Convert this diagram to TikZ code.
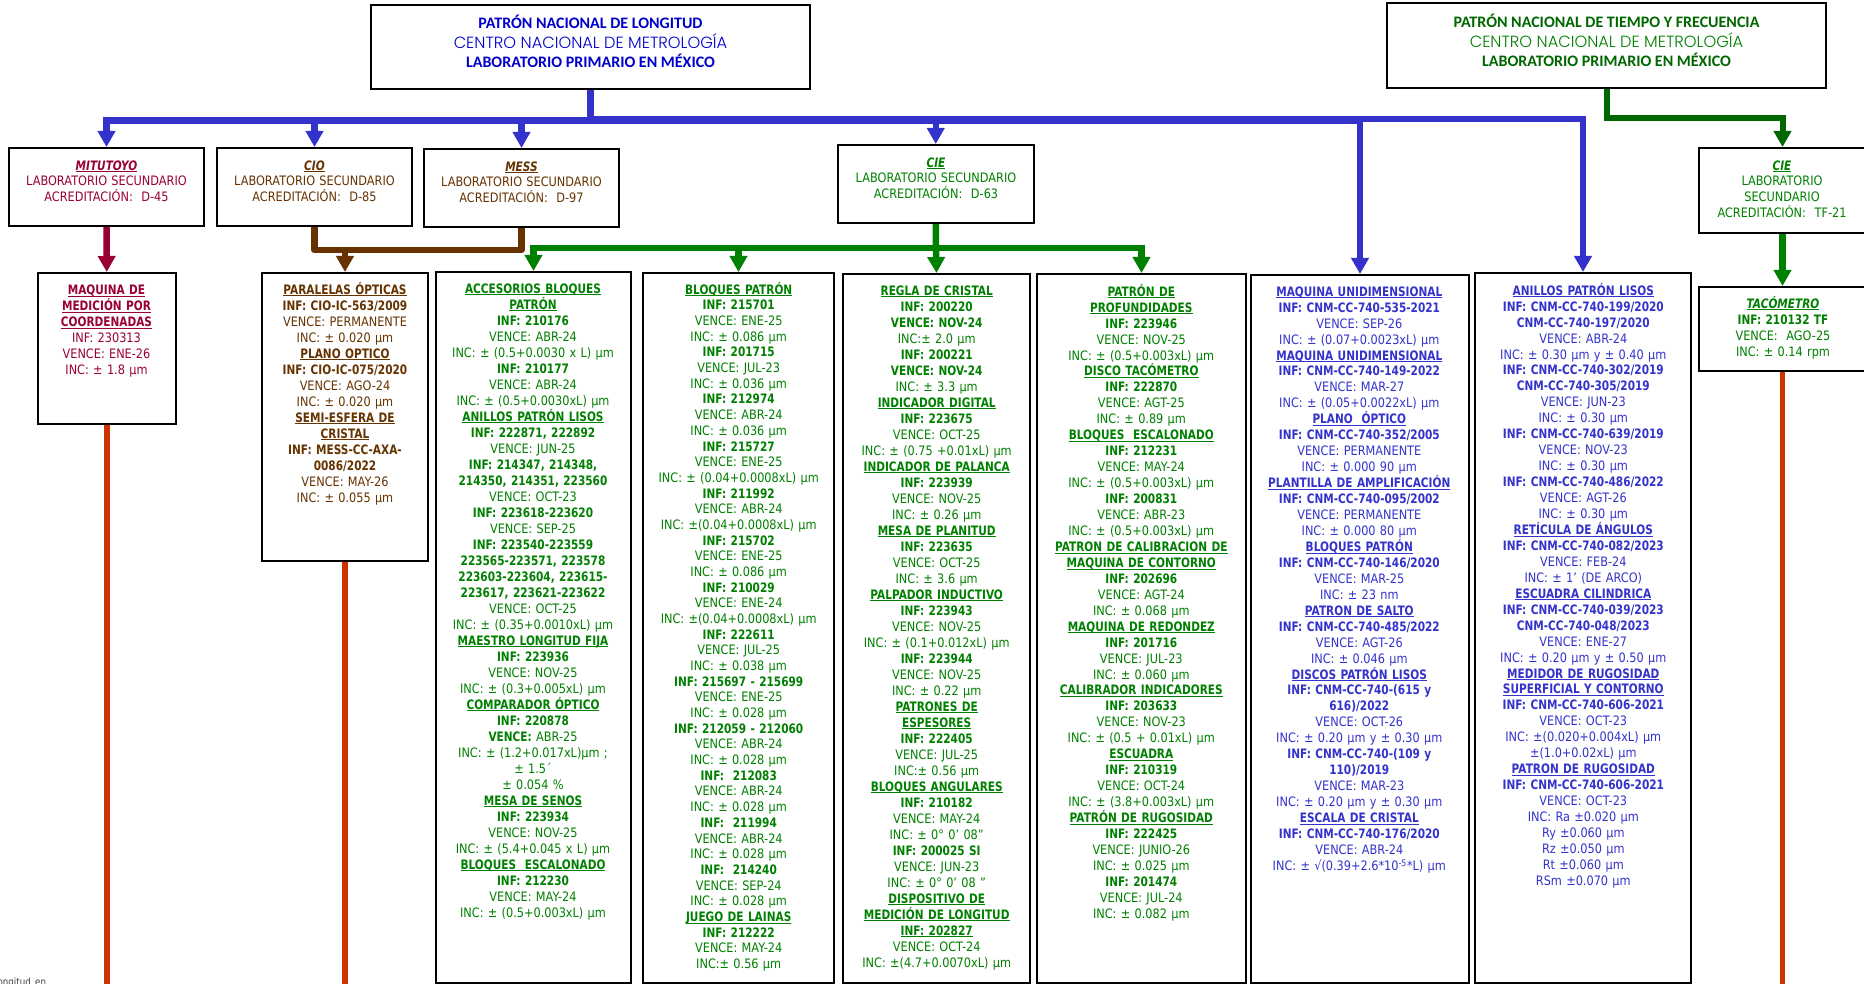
\documentclass[tikz,border=0pt]{standalone}
\usepackage{fontspec}
\usetikzlibrary{arrows.meta,fit}
\setmainfont{DejaVu Sans}[FakeStretch=0.87,WordSpace=1.2,BoldFeatures={FakeStretch=0.81},ItalicFeatures={FakeStretch=0.87},BoldItalicFeatures={FakeStretch=0.81}]
\newfontfamily\headf{Carlito}
\newfontfamily\midf{Poppins}[UprightFont=* Light]
\definecolor{cblue}{HTML}{3333CC}
\definecolor{hblue}{HTML}{0000CC}
\definecolor{cgreen}{HTML}{008000}
\definecolor{dgreen}{HTML}{006600}
\definecolor{ccrim}{HTML}{990033}
\definecolor{cbrown}{HTML}{663300}
\definecolor{cred}{HTML}{CC3300}
\newcommand\T[1]{\underline{\smash{\textbf{#1}}}}
\newcommand\TI[1]{\underline{\smash{\textbf{\textit{#1}}}}}
\newcommand\B[1]{\textbf{#1}}
\newcommand\Fs{\rule{0pt}{12pt}}
\newcommand\MidL[1]{{\midf\fontsize{16.2}{19.7}\selectfont #1}}
\tikzset{
  x=1pt,y=-1pt,
  boxst/.style={draw=black,line width=2pt,inner sep=0pt,fill=white},
  tx/.style={anchor=north,inner sep=0pt,align=center,text=#1},
  bl/.style={font=\fontsize{13}{#1}\selectfont},
  head/.style={anchor=north,inner sep=0pt,align=center,text=#1,font=\headf\fontsize{16}{19.6}\selectfont},
  conn/.style={draw=#1,line width=6.5pt,line join=miter},
  tip/.style={-{Triangle[length=16pt,width=17pt]}},
}
\newcommand\bx[5]{\node[boxst,fit={(#2,#3)(#4,#5)}] (#1) {};}
\begin{document}
\begin{tikzpicture}
\useasboundingbox (0,0) rectangle (1864,984);
\clip (0,0) rectangle (1864,984);
% boxes
\bx{b1}{371}{5}{810}{89}
\bx{b2}{1387}{3}{1826}{88}
\bx{mit}{9}{148}{204}{226}
\bx{cio}{217}{148}{412}{226}
\bx{mess}{424}{149}{619}{227}
\bx{cie}{838}{145}{1033.5}{223}
\bx{cietf}{1699}{148}{1866}{233}
\bx{taco}{1699}{287}{1866}{371}
\bx{mq}{38}{273}{175.5}{424}
\bx{par}{262}{273}{428}{561}
\bx{acc}{436}{272}{631}{983}
\bx{blo}{643}{273}{834}{983}
\bx{reg}{843}{274}{1030}{983}
\bx{pro}{1037}{274}{1246}{983}
\bx{unid}{1251}{275}{1469}{983}
\bx{ani}{1475}{273}{1691}{983}
% headers
\node[head=hblue] (tb1) at (590.5,15) {\Fs\B{PATRÓN NACIONAL DE LONGITUD}\\
 \MidL{\color{hblue}CENTRO NACIONAL DE METROLOGÍA}\\
 \B{LABORATORIO PRIMARIO EN MÉXICO}};
\node[head=dgreen] (tb2) at (1606.5,14) {\Fs\B{PATRÓN NACIONAL DE TIEMPO Y FRECUENCIA}\\
 \MidL{\color{cgreen}CENTRO NACIONAL DE METROLOGÍA}\\
 \B{LABORATORIO PRIMARIO EN MÉXICO}};
% lab texts
\node[tx=ccrim,bl=15.5] (tmit) at (106.5,158) {\Fs\TI{MITUTOYO}\\LABORATORIO SECUNDARIO\\ACREDITACIÓN:\ \ D-45};
\node[tx=cbrown,bl=15.5] (tcio) at (314.5,158) {\Fs\TI{CIO}\\LABORATORIO SECUNDARIO\\ACREDITACIÓN:\ \ D-85};
\node[tx=cbrown,bl=15.5] (tmess) at (521.5,159) {\Fs\TI{MESS}\\LABORATORIO SECUNDARIO\\ACREDITACIÓN:\ \ D-97};
\node[tx=cgreen,bl=15.5] (tcie) at (936,155) {\Fs\TI{CIE}\\LABORATORIO SECUNDARIO\\ACREDITACIÓN:\ \ D-63};
\node[tx=cgreen,bl=15.8] (tcietf) at (1782,158) {\Fs\TI{CIE}\\LABORATORIO\\SECUNDARIO\\ACREDITACIÓN:\ \ TF-21};
\node[tx=cgreen,bl=16] (ttaco) at (1783,296) {\Fs\TI{TACÓMETRO}\\\B{INF: 210132 TF}\\VENCE:\ \ AGO-25\\INC: ± 0.14 rpm};
\node[tx=ccrim,bl=16] (tmq) at (106.5,282.5) {\Fs\T{MAQUINA DE}\\\T{MEDICIÓN POR}\\\T{COORDENADAS}\\INF: 230313\\VENCE: ENE-26\\INC: ± 1.8 µm};
\node[tx=cbrown,bl=16] (tpar) at (345,282) {\Fs\T{PARALELAS ÓPTICAS}\\\B{INF: CIO-IC-563/2009}\\VENCE: PERMANENTE\\INC: ± 0.020 µm\\\T{PLANO OPTICO}\\\B{INF: CIO-IC-075/2020}\\VENCE: AGO-24\\INC: ± 0.020 µm\\\T{SEMI-ESFERA DE}\\\T{CRISTAL}\\\B{INF: MESS-CC-AXA-}\\\B{0086/2022}\\VENCE: MAY-26\\INC: ± 0.055 µm};
\node[tx=cgreen,bl=16] (tacc) at (533,281) {\Fs\T{ACCESORIOS BLOQUES}\\\T{PATRÓN}\\\B{INF: 210176}\\VENCE: ABR-24\\INC: ± (0.5+0.0030 x L) µm\\\B{INF: 210177}\\VENCE: ABR-24\\INC: ± (0.5+0.0030xL) µm\\\T{ANILLOS PATRÓN LISOS}\\\B{INF: 222871, 222892}\\VENCE: JUN-25\\\B{INF: 214347, 214348,}\\\B{214350, 214351, 223560}\\VENCE: OCT-23\\\B{INF: 223618-223620}\\VENCE: SEP-25\\\B{INF: 223540-223559}\\\B{223565-223571, 223578}\\\B{223603-223604, 223615-}\\\B{223617, 223621-223622}\\VENCE: OCT-25\\INC: ± (0.35+0.0010xL) µm\\\T{MAESTRO LONGITUD FIJA}\\\B{INF: 223936}\\VENCE: NOV-25\\INC: ± (0.3+0.005xL) µm\\\T{COMPARADOR ÓPTICO}\\\B{INF: 220878}\\\B{VENCE:} ABR-25\\INC: ± (1.2+0.017xL)µm ;\\± 1.5´\\± 0.054 \%\\\T{MESA DE SENOS}\\\B{INF: 223934}\\VENCE: NOV-25\\INC: ± (5.4+0.045 x L) µm\\\T{BLOQUES\ \ ESCALONADO}\\\B{INF: 212230}\\VENCE: MAY-24\\INC: ± (0.5+0.003xL) µm};
\node[tx=cgreen,bl=15.68] (tblo) at (738.7,282) {\Fs\T{BLOQUES PATRÓN}\\\B{INF: 215701}\\VENCE: ENE-25\\INC: ± 0.086 µm\\\B{INF: 201715}\\VENCE: JUL-23\\INC: ± 0.036 µm\\\B{INF: 212974}\\VENCE: ABR-24\\INC: ± 0.036 µm\\\B{INF: 215727}\\VENCE: ENE-25\\INC: ± (0.04+0.0008xL) µm\\\B{INF: 211992}\\VENCE: ABR-24\\INC: ±(0.04+0.0008xL) µm\\\B{INF: 215702}\\VENCE: ENE-25\\INC: ± 0.086 µm\\\B{INF: 210029}\\VENCE: ENE-24\\INC: ±(0.04+0.0008xL) µm\\\B{INF: 222611}\\VENCE: JUL-25\\INC: ± 0.038 µm\\\B{INF: 215697 - 215699}\\VENCE: ENE-25\\INC: ± 0.028 µm\\\B{INF: 212059 - 212060}\\VENCE: ABR-24\\INC: ± 0.028 µm\\\B{INF:\ \ 212083}\\VENCE: ABR-24\\INC: ± 0.028 µm\\\B{INF:\ \ 211994}\\VENCE: ABR-24\\INC: ± 0.028 µm\\\B{INF:\ \ 214240}\\VENCE: SEP-24\\INC: ± 0.028 µm\\\T{JUEGO DE LAINAS}\\\B{INF: 212222}\\VENCE: MAY-24\\INC:± 0.56 µm};
\node[tx=cgreen,bl=16] (treg) at (936.7,283) {\Fs\T{REGLA DE CRISTAL}\\\B{INF: 200220}\\\B{VENCE: NOV-24}\\INC:± 2.0 µm\\\B{INF: 200221}\\\B{VENCE: NOV-24}\\INC: ± 3.3 µm\\\T{INDICADOR DIGITAL}\\\B{INF: 223675}\\VENCE: OCT-25\\INC: ± (0.75 +0.01xL) µm\\\T{INDICADOR DE PALANCA}\\\B{INF: 223939}\\VENCE: NOV-25\\INC: ± 0.26 µm\\\T{MESA DE PLANITUD}\\\B{INF: 223635}\\VENCE: OCT-25\\INC: ± 3.6 µm\\\T{PALPADOR INDUCTIVO}\\\B{INF: 223943}\\VENCE: NOV-25\\INC: ± (0.1+0.012xL) µm\\\B{INF: 223944}\\VENCE: NOV-25\\INC: ± 0.22 µm\\\T{PATRONES DE}\\\T{ESPESORES}\\\B{INF: 222405}\\VENCE: JUL-25\\INC:± 0.56 µm\\\T{BLOQUES ANGULARES}\\\B{INF: 210182}\\VENCE: MAY-24\\INC: ± 0° 0’ 08”\\\B{INF: 200025 SI}\\VENCE: JUN-23\\INC: ± 0° 0’ 08 ”\\\T{DISPOSITIVO DE}\\\T{MEDICIÓN DE LONGITUD}\\\T{INF: 202827}\\VENCE: OCT-24\\INC: ±(4.7+0.0070xL) µm};
\node[tx=cgreen,bl=15.95] (tpro) at (1141.3,284) {\Fs\T{PATRÓN DE}\\\T{PROFUNDIDADES}\\\B{INF: 223946}\\VENCE: NOV-25\\INC: ± (0.5+0.003xL) µm\\\T{DISCO TACÓMETRO}\\\B{INF: 222870}\\VENCE: AGT-25\\INC: ± 0.89 µm\\\T{BLOQUES\ \ ESCALONADO}\\\B{INF: 212231}\\VENCE: MAY-24\\INC: ± (0.5+0.003xL) µm\\\B{INF: 200831}\\VENCE: ABR-23\\INC: ± (0.5+0.003xL) µm\\\T{PATRON DE CALIBRACION DE}\\\T{MAQUINA DE CONTORNO}\\\B{INF: 202696}\\VENCE: AGT-24\\INC: ± 0.068 µm\\\T{MAQUINA DE REDONDEZ}\\\B{INF: 201716}\\VENCE: JUL-23\\INC: ± 0.060 µm\\\T{CALIBRADOR INDICADORES}\\\B{INF: 203633}\\VENCE: NOV-23\\INC: ± (0.5 + 0.01xL) µm\\\T{ESCUADRA}\\\B{INF: 210319}\\VENCE: OCT-24\\INC: ± (3.8+0.003xL) µm\\\T{PATRÓN DE RUGOSIDAD}\\\B{INF: 222425}\\VENCE: JUNIO-26\\INC: ± 0.025 µm\\\B{INF: 201474}\\VENCE: JUL-24\\INC: ± 0.082 µm};
\node[tx=cblue,bl=15.95] (tunid) at (1359.3,284) {\Fs\T{MAQUINA UNIDIMENSIONAL}\\\B{INF: CNM-CC-740-535-2021}\\VENCE: SEP-26\\INC: ± (0.07+0.0023xL) µm\\\T{MAQUINA UNIDIMENSIONAL}\\\B{INF: CNM-CC-740-149-2022}\\VENCE: MAR-27\\INC: ± (0.05+0.0022xL) µm\\\T{PLANO\ \ ÓPTICO}\\\B{INF: CNM-CC-740-352/2005}\\VENCE: PERMANENTE\\INC: ± 0.000 90 µm\\\T{PLANTILLA DE AMPLIFICACIÓN}\\\B{INF: CNM-CC-740-095/2002}\\VENCE: PERMANENTE\\INC: ± 0.000 80 µm\\\T{BLOQUES PATRÓN}\\\B{INF: CNM-CC-740-146/2020}\\VENCE: MAR-25\\INC: ± 23 nm\\\T{PATRON DE SALTO}\\\B{INF: CNM-CC-740-485/2022}\\VENCE: AGT-26\\INC: ± 0.046 µm\\\T{DISCOS PATRÓN LISOS}\\\B{INF: CNM-CC-740-(615 y}\\\B{616)/2022}\\VENCE: OCT-26\\INC: ± 0.20 µm y ± 0.30 µm\\\B{INF: CNM-CC-740-(109 y}\\\B{110)/2019}\\VENCE: MAR-23\\INC: ± 0.20 µm y ± 0.30 µm\\\T{ESCALA DE CRISTAL}\\\B{INF: CNM-CC-740-176/2020}\\VENCE: ABR-24\\INC: ± √(0.39+2.6*10\textsuperscript{-5}*L) µm};
\node[tx=cblue,bl=15.95] (tani) at (1583.3,283) {\Fs\T{ANILLOS PATRÓN LISOS}\\\B{INF: CNM-CC-740-199/2020}\\\B{CNM-CC-740-197/2020}\\VENCE: ABR-24\\INC: ± 0.30 µm y ± 0.40 µm\\\B{INF: CNM-CC-740-302/2019}\\\B{CNM-CC-740-305/2019}\\VENCE: JUN-23\\INC: ± 0.30 µm\\\B{INF: CNM-CC-740-639/2019}\\VENCE: NOV-23\\INC: ± 0.30 µm\\\B{INF: CNM-CC-740-486/2022}\\VENCE: AGT-26\\INC: ± 0.30 µm\\\T{RETÍCULA DE ÁNGULOS}\\\B{INF: CNM-CC-740-082/2023}\\VENCE: FEB-24\\INC: ± 1’ (DE ARCO)\\\T{ESCUADRA CILINDRICA}\\\B{INF: CNM-CC-740-039/2023}\\\B{CNM-CC-740-048/2023}\\VENCE: ENE-27\\INC: ± 0.20 µm y ± 0.50 µm\\\T{MEDIDOR DE RUGOSIDAD}\\\T{SUPERFICIAL Y CONTORNO}\\\B{INF: CNM-CC-740-606-2021}\\VENCE: OCT-23\\INC: ±(0.020+0.004xL) µm\\±(1.0+0.02xL) µm\\\T{PATRON DE RUGOSIDAD}\\\B{INF: CNM-CC-740-606-2021}\\VENCE: OCT-23\\INC: Ra ±0.020 µm\\Ry ±0.060 µm\\Rz ±0.050 µm\\Rt ±0.060 µm\\RSm ±0.070 µm};
\node[anchor=north west,inner sep=0pt,text=black!75] (tfoot) at (-5,978) {\fontsize{10}{11}\selectfont longitud\_en};
% junctions
\coordinate (jb) at (590.5,120.5);
\coordinate (jg) at (936,248);
\coordinate (jbr) at (345,250);
% blue tree
\draw[conn=cblue,tip] (b1.south) -- (jb) -| (mit.north);
\draw[conn=cblue,tip] (cio.north |- jb) -- (cio.north);
\draw[conn=cblue,tip] (mess.north |- jb) -- (mess.north);
\draw[conn=cblue,line width=8pt] (jb) -- (unid.north |- jb);
\draw[conn=cblue,tip] (cie.north |- jb) -- (cie.north);
\draw[conn=cblue,tip] (unid.north |- jb) -- (unid.north);
\draw[conn=cblue,line width=6pt,tip] (unid.north |- 0,119) -| (ani.north);
% green time tree
\draw[conn=dgreen,line width=6pt,tip] (b2.south) |- (1782.5,118) -- (cietf.north);
\draw[conn=cgreen,tip] (cietf.south) -- (taco.north);
\draw[conn=cred,line width=5.5pt] (taco.south) -- (taco.south |- 0,990);
% crimson
\draw[conn=ccrim,tip] (mit.south) -- (mq.north);
\draw[conn=cred,line width=6pt] (mq.south) -- (mq.south |- 0,990);
% brown
\draw[conn=cbrown,line join=round] (cio.south) |- (jbr) -| (mess.south);
\draw[conn=cbrown,tip] (jbr) -- (par.north);
\draw[conn=cred,line width=6pt] (par.south) -- (par.south |- 0,990);
% green
\draw[conn=cgreen] (cie.south) -- (jg);
\draw[conn=cgreen,tip] (jg) -| (acc.north);
\draw[conn=cgreen,tip] (jg) -| (pro.north);
\draw[conn=cgreen,tip] (blo.north |- jg) -- (blo.north);
\draw[conn=cgreen,tip] (jg) -- (reg.north);
\end{tikzpicture}
\end{document}
